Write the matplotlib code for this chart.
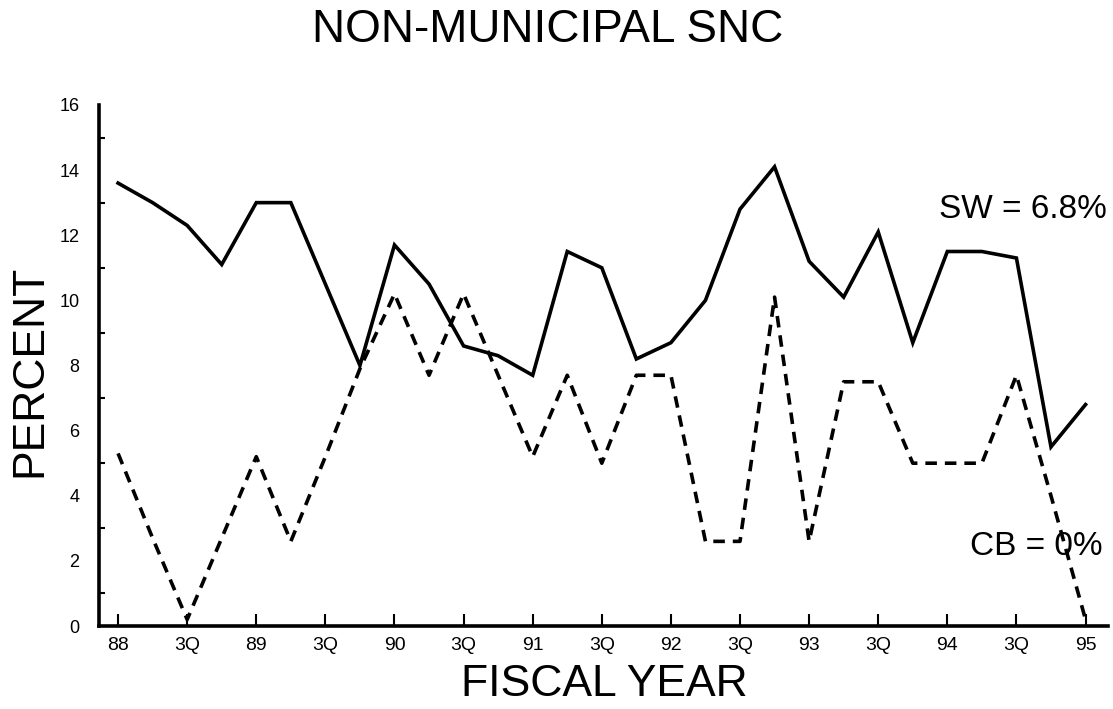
import matplotlib
matplotlib.use('Agg')
import matplotlib.pyplot as plt
import numpy as np

# quarters from FY88 Q1 to FY95 Q1
tick_labels = ['88', '3Q', '89', '3Q', '90', '3Q', '91', '3Q',
               '92', '3Q', '93', '3Q', '94', '3Q', '95']

sw = [13.6, 13.0, 12.3, 11.1, 13.0, 13.0, 10.5, 8.0, 11.7, 10.5, 8.6, 8.3, 7.7,
      11.5, 11.0, 8.2, 8.7, 10.0, 12.8, 14.1, 11.2, 10.1, 12.1, 8.7, 11.5,
      11.5, 11.3, 5.5, 6.8]
cb = [5.3, 2.7, 0.2, 2.7, 5.2, 2.6, 5.2, 7.9, 10.2, 7.7, 10.2, 7.7, 5.2,
      7.7, 5.0, 7.7, 7.7, 2.6, 2.6, 10.1, 2.6, 7.5, 7.5, 5.0, 5.0,
      5.0, 7.7, 4.0, 0.2]

plt.rcParams['font.family'] = ['Liberation Sans', 'DejaVu Sans']

fig = plt.figure(figsize=(11.13, 7.09), dpi=100)
ax = fig.add_axes([0.089, 0.117, 0.9065, 0.735])

q = np.arange(len(sw))
ax.plot(q, sw, color='black', lw=2.6, solid_joinstyle='miter')
ax.plot(q, cb, color='black', lw=2.6, dashes=(3.2, 2.2))

ax.set_xlim(-0.55, 28.65)
ax.set_ylim(0, 16)

ax.spines['top'].set_visible(False)
ax.spines['right'].set_visible(False)
ax.spines['left'].set_linewidth(2.6)
ax.spines['bottom'].set_linewidth(2.6)

ax.set_xticks(np.arange(0, len(sw), 2))
ax.set_xticklabels(tick_labels)
ax.tick_params(axis='x', direction='in', length=9, width=1.5, labelsize=14, pad=8)

ax.set_yticks(np.arange(0, 17, 2))
ax.set_yticks(np.arange(1, 16, 2), minor=True)
ax.tick_params(axis='y', which='major', length=0, labelsize=13, pad=14)
ax.tick_params(axis='y', which='minor', direction='in', length=4, width=1.5)

ax.text(28.62, 12.8, 'SW = 6.8%', fontsize=24, ha='right', va='center')
ax.text(28.5, 2.45, 'CB = 0%', fontsize=24, ha='right', va='center')

fig.text(0.492, 0.958, 'NON-MUNICIPAL SNC', fontsize=33, ha='center', va='center')
fig.text(0.543, 0.035, 'FISCAL YEAR', fontsize=32, ha='center', va='center')
fig.text(0.027, 0.477, 'PERCENT', fontsize=32, ha='center', va='center', rotation=90)

fig.savefig('out.png', dpi=100)
